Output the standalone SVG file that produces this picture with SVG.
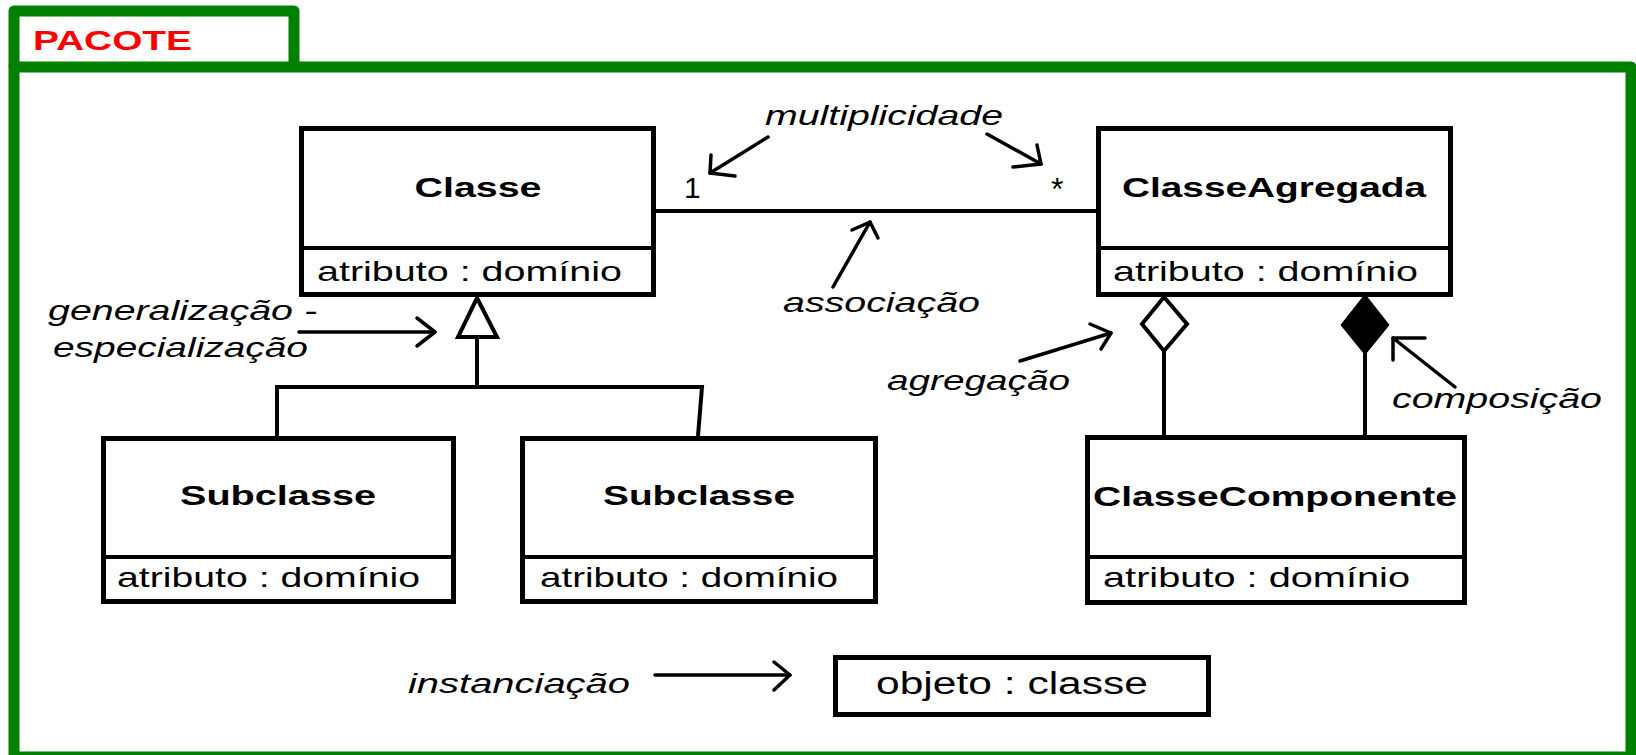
<svg xmlns="http://www.w3.org/2000/svg" width="1636" height="755" viewBox="0 0 1636 755">
<style>
.frame{fill:none;stroke:#008000;stroke-width:11;stroke-linejoin:round}
.box{fill:#fff;stroke:#000;stroke-width:5}
.div{stroke:#000;stroke-width:4}
.conn{fill:none;stroke:#000;stroke-width:4;stroke-linejoin:miter}
.ann{fill:none;stroke:#000;stroke-width:3.5;stroke-linecap:round;stroke-linejoin:round}
text{font-family:"Liberation Sans",Arial,sans-serif;font-size:28px;fill:#000}
.b{font-weight:bold}
.i{font-style:italic}
.title{font-weight:bold;fill:#ff0000}
</style>
<rect width="1636" height="755" fill="#fff"/>
<g id="pacote">
<path class="frame" d="M14,67 V11 H294 V67"/>
<rect class="frame" x="14" y="67" width="1617" height="690"/>
<text class="title" x="33" y="50" textLength="159" lengthAdjust="spacingAndGlyphs">PACOTE</text>
</g>
<g id="connectors">
<line class="conn" x1="656" y1="211" x2="1096" y2="211"/>
<polygon class="conn" fill="#fff" points="477,298 497,337 458,337"/>
<polyline class="conn" points="477,337 477,387"/>
<polyline class="conn" points="277,436 277,387 702,387 698,436"/>
<polygon class="conn" style="fill:#fff" points="1164,297 1187,324 1164,351 1142,324"/>
<line class="conn" x1="1164" y1="351" x2="1164" y2="436"/>
<polygon class="conn" style="fill:#000" points="1365,297 1387,325 1365,352 1343,325"/>
<line class="conn" x1="1365" y1="352" x2="1365" y2="436"/>
</g>
<g id="classe">
<rect class="box" x="301.5" y="128.5" width="352" height="166"/>
<line class="div" x1="301.5" y1="248" x2="653.5" y2="248"/>
<text class="b" x="478" y="197" text-anchor="middle" textLength="127" lengthAdjust="spacingAndGlyphs">Classe</text>
<text x="317" y="281" textLength="305" lengthAdjust="spacingAndGlyphs">atributo : domínio</text>
</g>
<g id="classeAgregada">
<rect class="box" x="1098.5" y="128.5" width="352" height="166"/>
<line class="div" x1="1098.5" y1="248" x2="1450.5" y2="248"/>
<text class="b" x="1274" y="197" text-anchor="middle" textLength="304" lengthAdjust="spacingAndGlyphs">ClasseAgregada</text>
<text x="1113" y="281" textLength="305" lengthAdjust="spacingAndGlyphs">atributo : domínio</text>
</g>
<g id="subclasse1">
<rect class="box" x="103.5" y="438.5" width="350" height="163"/>
<line class="div" x1="103.5" y1="557" x2="453.5" y2="557"/>
<text class="b" x="278" y="505" text-anchor="middle" textLength="196" lengthAdjust="spacingAndGlyphs">Subclasse</text>
<text x="117" y="587" textLength="303" lengthAdjust="spacingAndGlyphs">atributo : domínio</text>
</g>
<g id="subclasse2">
<rect class="box" x="522.5" y="438.5" width="353" height="163"/>
<line class="div" x1="522.5" y1="557" x2="875.5" y2="557"/>
<text class="b" x="699" y="505" text-anchor="middle" textLength="192" lengthAdjust="spacingAndGlyphs">Subclasse</text>
<text x="540" y="587" textLength="298" lengthAdjust="spacingAndGlyphs">atributo : domínio</text>
</g>
<g id="classeComponente">
<rect class="box" x="1087.5" y="437.5" width="377" height="165"/>
<line class="div" x1="1087.5" y1="557" x2="1464.5" y2="557"/>
<text class="b" x="1275" y="506" text-anchor="middle" textLength="364" lengthAdjust="spacingAndGlyphs">ClasseComponente</text>
<text x="1103" y="587" textLength="307" lengthAdjust="spacingAndGlyphs">atributo : domínio</text>
</g>
<g id="objeto">
<rect class="box" x="835.5" y="657.5" width="373" height="57"/>
<text x="876" y="694" style="font-size:31px" textLength="272" lengthAdjust="spacingAndGlyphs">objeto : classe</text>
</g>
<g id="annotations">
<text x="684" y="198" style="font-size:30px">1</text>
<text x="1051" y="200" style="font-size:32px">*</text>
<text class="i" x="765" y="125" textLength="238" lengthAdjust="spacingAndGlyphs">multiplicidade</text>
<line class="ann" x1="768" y1="137" x2="710" y2="173"/>
<polyline class="ann" points="711,155 710,173 735,176"/>
<line class="ann" x1="987" y1="134" x2="1041" y2="164"/>
<polyline class="ann" points="1037,145 1041,164 1013,167"/>
<text class="i" x="783" y="312" textLength="197" lengthAdjust="spacingAndGlyphs">associação</text>
<line class="ann" x1="833" y1="287" x2="870" y2="222"/>
<polyline class="ann" points="852,230 870,222 878,238"/>
<text class="i" x="48" y="320" textLength="269" lengthAdjust="spacingAndGlyphs">generalização -</text>
<text class="i" x="53" y="357" textLength="255" lengthAdjust="spacingAndGlyphs">especialização</text>
<line class="ann" x1="299" y1="332" x2="435" y2="332"/>
<polyline class="ann" points="417,318 435,332 417,346"/>
<text class="i" x="887" y="390" textLength="183" lengthAdjust="spacingAndGlyphs">agregação</text>
<line class="ann" x1="1020" y1="361" x2="1111" y2="333"/>
<polyline class="ann" points="1090,324 1111,333 1101,349"/>
<text class="i" x="1392" y="408" textLength="210" lengthAdjust="spacingAndGlyphs">composição</text>
<line class="ann" x1="1455" y1="387" x2="1393" y2="338"/>
<polyline class="ann" points="1425,338 1393,338 1393,360"/>
<text class="i" x="408" y="693" textLength="222" lengthAdjust="spacingAndGlyphs">instanciação</text>
<line class="ann" x1="655" y1="675" x2="790" y2="675"/>
<polyline class="ann" points="774,662 790,675 774,690"/>
</g>
</svg>
